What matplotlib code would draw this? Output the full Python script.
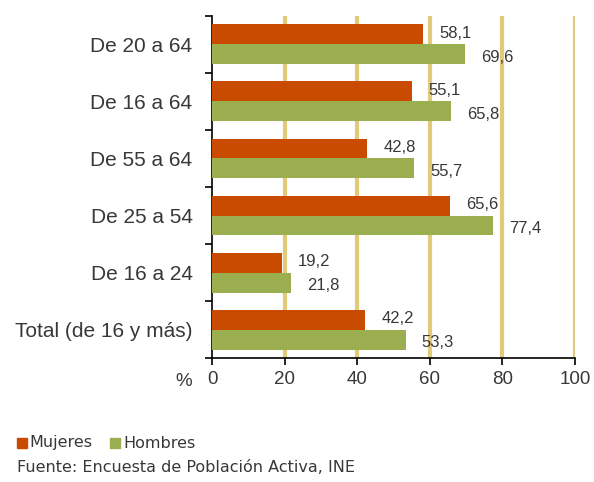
import numpy as np
import matplotlib.pyplot as plt
from matplotlib.patches import Rectangle

categories = ['De 20 a 64', 'De 16 a 64', 'De 55 a 64', 'De 25 a 54', 'De 16 a 24', 'Total (de 16 y más)']
mujeres = [58.1, 55.1, 42.8, 65.6, 19.2, 42.2]
hombres = [69.6, 65.8, 55.7, 77.4, 21.8, 53.3]
xticks = [0, 20, 40, 60, 80, 100]

c_muj = '#C84B00'
c_hom = '#9BAF50'
c_grid = '#E3CA7A'
c_txt = '#383838'

plt.rcParams['font.family'] = ['Liberation Sans', 'DejaVu Sans']

fig = plt.figure(figsize=(5.94, 4.82), dpi=100)
ax = fig.add_axes([0.357, 0.257, 0.611, 0.710])

n = len(categories)
y = np.arange(n)
h = 0.35
ax.barh(y - h / 2, mujeres, height=h, color=c_muj, zorder=3)
ax.barh(y + h / 2, hombres, height=h, color=c_hom, zorder=3)

for i in range(n):
    ax.text(mujeres[i] + 4.5, y[i] - h / 2 - 0.02, f'{mujeres[i]:.1f}'.replace('.', ','),
            va='center', ha='left', fontsize=12, color=c_txt)
    ax.text(hombres[i] + 4.5, y[i] + h / 2 + 0.05, f'{hombres[i]:.1f}'.replace('.', ','),
            va='center', ha='left', fontsize=12, color=c_txt)

for v in xticks[1:]:
    ax.axvline(v, color=c_grid, lw=3, zorder=1)

ax.set_xlim(0, 100)
ax.set_ylim(n - 0.5, -0.5)
ax.set_xticks(xticks)
ax.set_xticklabels([str(v) for v in xticks], fontsize=13.5, color=c_txt)
ax.set_yticks(y)
ax.set_yticklabels(categories, fontsize=15, color=c_txt)
ax.set_yticks(np.arange(n + 1) - 0.5, minor=True)
ax.tick_params(axis='y', which='major', length=0, pad=14)
ax.tick_params(axis='y', which='minor', length=5, width=1.2, direction='out')
ax.tick_params(axis='x', length=5, width=1.2, direction='out', pad=4)
for s in ['top', 'right']:
    ax.spines[s].set_visible(False)
ax.spines['left'].set_linewidth(1.2)
ax.spines['bottom'].set_linewidth(1.2)

fig.text(184 / 594, 1 - 381 / 482, '%', fontsize=13.5, color=c_txt, ha='center', va='center')

# legend
lfont = dict(fontsize=11.5, color=c_txt, va='center', family='DejaVu Sans')
fig.patches.append(Rectangle((17 / 594, 1 - 448 / 482), 10 / 594, 10 / 482,
                             transform=fig.transFigure, color=c_muj, figure=fig))
fig.text(29 / 594, 1 - 443 / 482, 'Mujeres', **lfont)
fig.patches.append(Rectangle((110 / 594, 1 - 448 / 482), 10 / 594, 10 / 482,
                             transform=fig.transFigure, color=c_hom, figure=fig))
fig.text(123 / 594, 1 - 443 / 482, 'Hombres', **lfont)

fig.text(17 / 594, 1 - 468 / 482, 'Fuente: Encuesta de Población Activa, INE', **lfont)

fig.savefig('out.png', dpi=100)
